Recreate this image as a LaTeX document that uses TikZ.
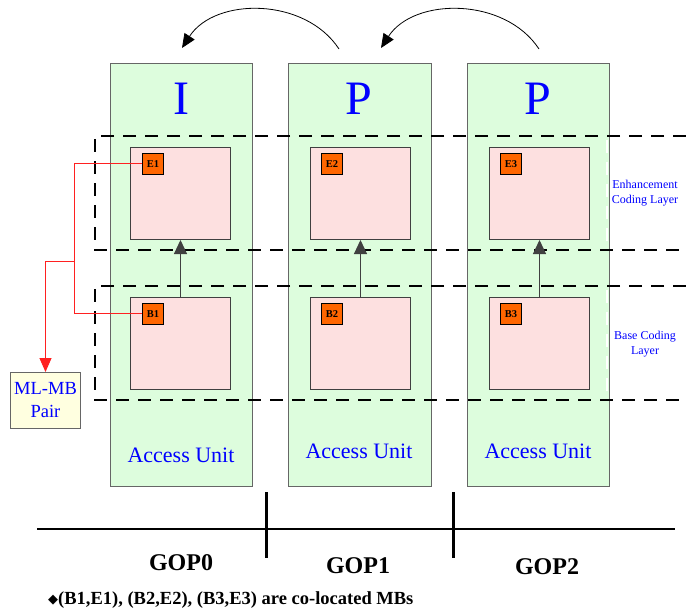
\documentclass[tikz,border=0pt]{standalone}
\usepackage{fontspec}
\setmainfont{Liberation Serif}
\newfontfamily\symfont{DejaVu Sans}
\usetikzlibrary{arrows.meta}
\definecolor{aufill}{HTML}{DDFDDD}
\definecolor{mbfill}{HTML}{FDE0E0}
\definecolor{tagfill}{HTML}{FF6600}
\definecolor{pairfill}{HTML}{FFFFE0}
\definecolor{edge}{HTML}{666666}
\definecolor{lbl}{HTML}{0000FF}
\definecolor{linkred}{HTML}{FF2020}

\begin{document}
\begin{tikzpicture}[x=1pt,y=-1pt,
  au/.style={draw=edge, line width=1.2pt, fill=aufill, minimum width=142pt, minimum height=423pt, anchor=north west, inner sep=0pt},
  mb/.style={draw=black!75, line width=1pt, fill=mbfill, minimum width=100pt, minimum height=92pt, anchor=north west, inner sep=0pt},
  tag/.style={draw=black, line width=0.8pt, fill=tagfill, minimum size=21pt, inner sep=0pt, anchor=north west, font=\fontsize{10.5}{12}\selectfont\bfseries},
  ftype/.style={text=lbl, font=\fontsize{48}{48}\selectfont},
  aulbl/.style={text=lbl, font=\fontsize{22}{24}\selectfont},
  layer/.style={text=lbl, font=\fontsize{12}{15}\selectfont, align=center},
  layerline/.style={dash pattern=on 13pt off 9pt, line width=2pt},
  gop/.style={font=\fontsize{24}{26}\selectfont\bfseries},
  up/.style={-{Triangle[length=14pt,width=13pt]}, draw=black!75, line width=1pt},
  ref/.style={-{Triangle[length=14pt,width=12pt]}, line width=0.8pt},
  link/.style={draw=linkred, line width=1pt}
]
\useasboundingbox (0,0) rectangle (686,610);

% access units
\node[au] (au1) at (110,63) {};
\node[au, minimum width=143pt] (au2) at (288,63) {};
\node[au] (au3) at (467,63) {};

% frame types
\node[ftype] (t1) at (181,99) {I};
\node[ftype] (t2) at (359,99) {P};
\node[ftype] (t3) at (538,99) {P};

% prediction references
\coordinate (r1s) at (339,49);
\coordinate (r1e) at (182,48);
\coordinate (r2s) at (539,49);
\coordinate (r2e) at (381,48);
\draw[ref] (r1s) .. controls (305,-3) and (215,-3) .. (r1e);
\draw[ref] (r2s) .. controls (505,-3) and (414,-3) .. (r2e);

% coding layer bands
\draw[layerline] (686,136) -| (95,250) -- (686,250);
\draw[layerline] (686,286) -| (95,400) -- (686,400);
\draw[white, dash pattern=on 13pt off 9pt, line width=1.2pt] (607,140) -- (607,248);
\draw[white, dash pattern=on 13pt off 9pt, line width=1.2pt] (607,290) -- (607,398);

% macroblocks
\node[mb] (e1) at (130,147) {};
\node[mb] (b1) at (130,297) {};
\node[mb] (e2) at (310,147) {};
\node[mb] (b2) at (310,297) {};
\node[mb] (e3) at (489,147) {};
\node[mb] (b3) at (489,297) {};

\node[tag] (e1t) at (142,153) {E1};
\node[tag] (b1t) at (142,303) {B1};
\node[tag] (e2t) at (321,153) {E2};
\node[tag] (b2t) at (321,303) {B2};
\node[tag] (e3t) at (500,153) {E3};
\node[tag] (b3t) at (500,303) {B3};

\draw[up] (b1.north) -- (e1.south);
\draw[up] (b2.north) -- (e2.south);
\draw[up] (b3.north) -- (e3.south);

% access unit labels
\node[aulbl] (a1) at (181,455) {Access Unit};
\node[aulbl] (a2) at (359,451) {Access Unit};
\node[aulbl] (a3) at (538,451) {Access Unit};

% layer labels
\node[layer] (enh) at (645,193) {Enhancement\\Coding Layer};
\node[layer] (base) at (645,344) {Base Coding\\Layer};

% multi-layer macroblock pair
\node[draw=edge, line width=1pt, fill=pairfill, minimum width=70pt, minimum height=56pt, anchor=north west, align=center, text=lbl, font=\fontsize{18.5}{23}\selectfont, inner sep=0pt] (pair) at (10,372) {ML-MB\\Pair};
\coordinate (j) at (74,261);
\draw[link] (e1t.west) -- (e1t.west -| j) -- (b1t.west -| j) -- (b1t.west);
\draw[link, -{Triangle[length=14pt,width=12pt]}] (j) -| (pair.north);

% GOP timeline
\coordinate (tl0) at (37,529);
\coordinate (tl1) at (675,529);
\coordinate (k1a) at (266,492);
\coordinate (k1b) at (266,558);
\coordinate (k2a) at (453,492);
\coordinate (k2b) at (453,558);
\draw[line width=1.5pt] (tl0) -- (tl1);
\draw[line width=3pt] (k1a) -- (k1b);
\draw[line width=3pt] (k2a) -- (k2b);
\node[gop] (g0) at (181,563) {GOP0};
\node[gop] (g1) at (358,566) {GOP1};
\node[gop] (g2) at (547,567) {GOP2};

% note
\node[anchor=west, inner sep=0pt, font=\fontsize{18.5}{20}\selectfont\bfseries] (note) at (48,600) {\raisebox{1pt}{\symfont\fontsize{13}{13}\selectfont ◆}(B1,E1), (B2,E2), (B3,E3) are co-located MBs};
\end{tikzpicture}
\end{document}
